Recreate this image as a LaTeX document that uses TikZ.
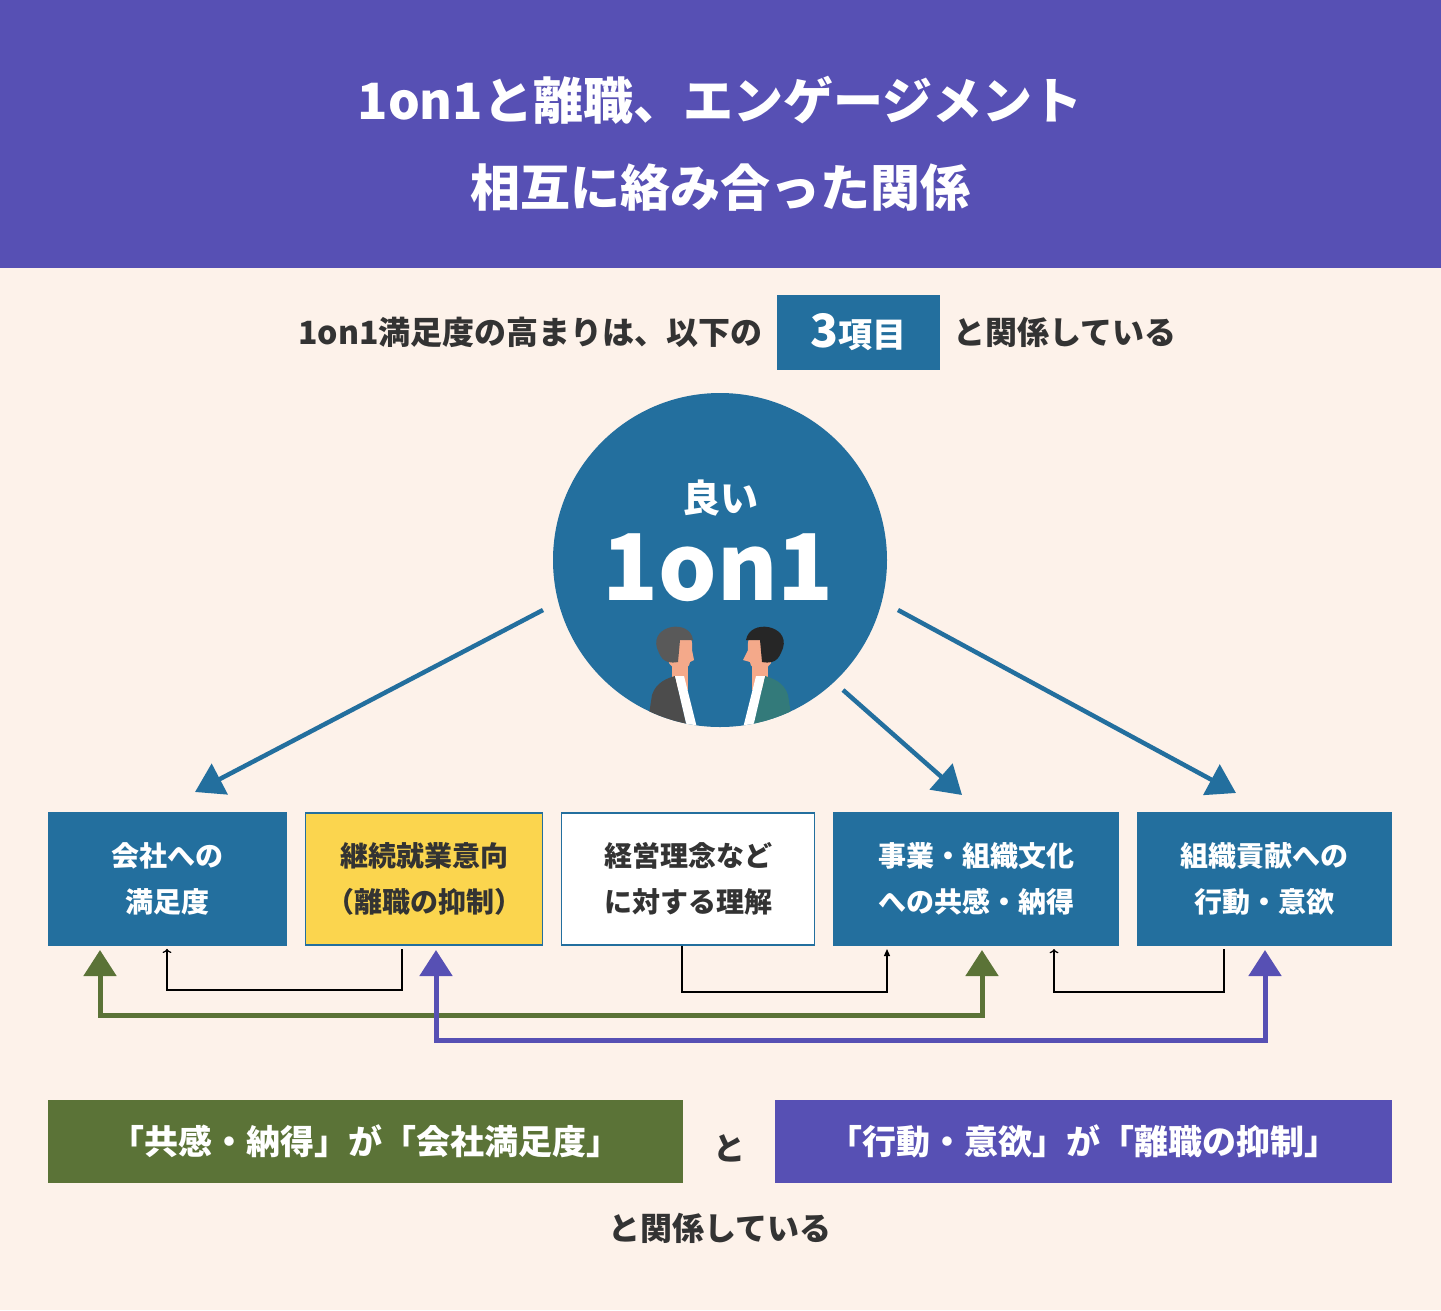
\documentclass[tikz,border=0pt]{standalone}
\usepackage{fontspec}
\setmainfont{Noto Sans CJK JP}
\usetikzlibrary{arrows.meta,positioning}
\definecolor{hdr}{HTML}{5750B4}
\definecolor{bg}{HTML}{FDF2EA}
\definecolor{blu}{HTML}{236F9E}
\definecolor{yel}{HTML}{FBD54E}
\definecolor{grn}{HTML}{5B7337}
\definecolor{ink}{HTML}{333333}
\definecolor{skin}{HTML}{F4A98A}
\tikzset{
  item/.style={draw=blu, line width=1.5pt, minimum height=132pt, align=center,
    font=\fontsize{28}{46}\selectfont\bfseries, inner sep=0pt},
  bluebox/.style={item, fill=blu, text=white},
  bigarrow/.style={blu, line width=4.5pt, -{Triangle[length=28pt,width=34pt]}},
  thin/.style={black, line width=1.2pt, -{Triangle[length=7pt,width=6pt]}},
  pair/.style={line width=5pt, {Triangle[length=26pt,width=32pt]}-{Triangle[length=26pt,width=32pt]}},
  banner/.style={minimum height=83pt, text=white, font=\fontsize{34}{40}\selectfont\bfseries, inner sep=0pt}
}
\begin{document}
\begin{tikzpicture}[x=1pt,y=-1pt]
  % Hintergrund
  \fill[bg] (0,0) rectangle (1441,1310);
  \fill[hdr] (0,0) rectangle (1441,268);
  \node[text=white, font=\fontsize{50}{60}\selectfont\bfseries] (t1) at (720,100) {1on1と離職、エンゲージメント};
  \node[text=white, font=\fontsize{50}{60}\selectfont\bfseries] (t2) at (720,188) {相互に絡み合った関係};

  % Untertitel
  \node[fill=blu, minimum width=163pt, minimum height=75pt, text=white, inner sep=0pt,
    font=\fontsize{34}{40}\selectfont\bfseries] (three) at (858,332) {{\fontsize{46}{50}\selectfont 3}項目};
  \node[left=10pt of three, text=ink, font=\fontsize{32}{40}\selectfont\bfseries] (s1) {1on1満足度の高まりは、以下の};
  \node[right=10pt of three, text=ink, font=\fontsize{32}{40}\selectfont\bfseries] (s2) {と関係している};

  % Kreis
  \fill[blu] (720,560) circle (167);
  \node[text=white, font=\fontsize{38}{44}\selectfont\bfseries] (good) at (720,498) {良い};
  \node[text=white, font=\fontsize{92}{100}\selectfont\bfseries] (one) at (718,568) {1on1};
  \begin{scope}
    \clip (720,560) circle (167);
    % links
    \fill[skin] (672,655) rectangle (688,690);
    \fill[skin] (668,640) .. controls (668,620) and (695,625) .. (692,650) -- (694,660) -- (690,662) .. controls (690,672) and (670,672) .. (668,660) -- cycle;
    \fill[black!65] (657,648) .. controls (650,625) and (690,618) .. (693,640) -- (680,640) -- (678,662) .. controls (662,665) and (660,655) .. (657,648) -- cycle;
    \fill[black!70] (645,740) -- (652,695) .. controls (656,682) and (668,678) .. (675,676) -- (690,740) -- cycle;
    \fill[white] (675,676) -- (684,676) -- (700,740) -- (690,740) -- cycle;
    % rechts
    \fill[skin] (752,655) rectangle (768,690);
    \fill[skin] (772,640) .. controls (772,620) and (745,625) .. (748,650) -- (743,660) -- (750,662) .. controls (750,672) and (770,672) .. (772,660) -- cycle;
    \fill[black!85] (783,648) .. controls (790,625) and (750,618) .. (746,640) -- (760,640) -- (762,662) .. controls (778,665) and (780,655) .. (783,648) -- cycle;
    \fill[teal!70!black!80] (795,740) -- (788,695) .. controls (784,682) and (772,678) .. (765,676) -- (750,740) -- cycle;
    \fill[white] (765,676) -- (756,676) -- (740,740) -- (750,740) -- cycle;
  \end{scope}
  \fill[bg] (540,760) -- (540,700) .. controls (650,740) and (790,740) .. (900,700) -- (900,760) -- cycle;

  % Kaesten
  \node[bluebox, minimum width=238pt] (b1) at (167.5,879) {会社への\\満足度};
  \node[item, fill=yel, text=ink, minimum width=237pt] (b2) at (424,879) {継続就業意向\\（離職の抑制）};
  \node[item, fill=white, text=ink, minimum width=253pt] (b3) at (688,879) {経営理念など\\に対する理解};
  \node[bluebox, minimum width=285pt] (b4) at (976,879) {事業・組織文化\\への共感・納得};
  \node[bluebox, minimum width=254pt] (b5) at (1264.5,879) {組織貢献への\\行動・意欲};

  % Pfeile vom Kreis
  \coordinate (aL) at (543,610);
  \coordinate (aM) at (843,690);
  \coordinate (aR) at (898,610);
  \draw[bigarrow] (aL) -- (195,792);
  \draw[bigarrow] (aM) -- (962,795);
  \draw[bigarrow] (aR) -- (1236,793);

  % Verbindungen
  \draw[thin, <-] ([xshift=-0.5pt]b1.south) ++(0,3) |- (402,990) -- (402,949);
  \draw[thin] (682,946) |- (887,992) -- (887,949);
  \draw[thin, <-] (1054,949) |- (1224,992) -- (1224,949);
  \draw[pair, grn] (100,950) |- (982,1015) -- (982,950);
  \draw[pair, hdr] (436,950) |- (1265,1040) -- (1265,950);

  % Unten
  \node[banner, fill=grn, minimum width=635pt] (g) at (365.5,1141.5) {「共感・納得」が「会社満足度」};
  \node[banner, fill=hdr, minimum width=617pt] (p) at (1083.5,1141.5) {「行動・意欲」が「離職の抑制」};
  \node[text=ink, font=\fontsize{32}{40}\selectfont\bfseries] (to) at (729,1148) {と};
  \node[text=ink, font=\fontsize{32}{40}\selectfont\bfseries] (end) at (720,1228) {と関係している};
\end{tikzpicture}
\end{document}
